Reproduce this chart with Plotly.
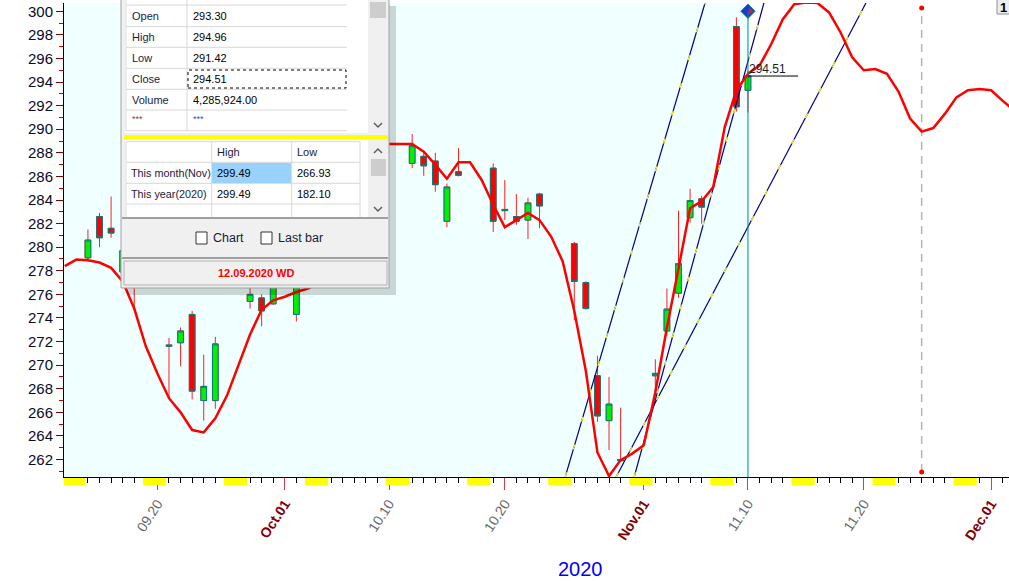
import plotly.graph_objects as go
import pandas as pd

# ---------------- data ----------------
candle_dates = ["2020-09-14", "2020-09-15", "2020-09-16", "2020-09-17", "2020-09-18",
                "2020-09-21", "2020-09-22", "2020-09-23", "2020-09-24", "2020-09-25",
                "2020-09-28", "2020-09-29", "2020-09-30", "2020-10-02",
                "2020-10-12", "2020-10-13", "2020-10-14", "2020-10-15", "2020-10-16",
                "2020-10-19", "2020-10-20", "2020-10-21", "2020-10-22", "2020-10-23",
                "2020-10-26", "2020-10-27", "2020-10-28", "2020-10-29", "2020-10-30",
                "2020-11-02", "2020-11-03", "2020-11-04", "2020-11-05", "2020-11-06",
                "2020-11-09", "2020-11-10"]
opens = [279.1, 282.6, 281.6, 277.9, 279.5,
         271.6, 271.9, 274.3, 267.0, 267.0,
         275.4, 275.7, 275.2, 274.3,
         287.1, 287.7, 287.3, 282.2, 286.4,
         286.7, 283.1, 282.6, 282.3, 284.5,
         280.3, 277.0, 269.1, 265.3, 262.0,
         269.1, 272.9, 276.1, 282.5, 284.1,
         298.7, 293.30]
highs = [281.5, 282.9, 284.3, 280.2, 280.0,
         272.3, 273.2, 274.6, 270.9, 272.4,
         276.8, 276.0, 278.0, 278.5,
         289.6, 288.1, 288.0, 285.4, 288.4,
         287.1, 285.7, 284.5, 284.2, 284.6,
         280.45, 277.1, 270.8, 269.0, 266.4,
         270.5, 276.5, 283.1, 284.95, 284.35,
         299.49, 294.96]
lows = [278.8, 280.0, 280.8, 277.5, 274.9,
        267.2, 269.9, 267.1, 265.3, 266.3,
        274.8, 273.3, 275.1, 273.7,
        286.7, 286.05, 284.7, 281.7, 286.0,
        281.3, 282.3, 281.9, 280.7, 281.6,
        273.8, 274.7, 265.2, 262.8, 261.85,
        267.4, 272.5, 275.7, 282.1, 282.0,
        291.5, 291.42]
closes = [280.6, 280.8, 281.2, 279.7, 277.0,
          271.7, 272.9, 267.8, 268.2, 271.8,
          276.0, 274.6, 277.4, 277.8,
          288.6, 286.9, 285.3, 285.1, 286.1,
          282.2, 283.2, 282.2, 283.75, 283.5,
          277.1, 274.8, 265.7, 266.7, 261.9,
          269.3, 274.75, 278.6, 283.95, 283.4,
          291.9, 294.51]

# smoothed / projected curve, one value per calendar day starting 2020-09-12
curve_start = "2020-09-12"
curve_values = [278.4, 278.95, 278.9, 278.7, 278.25, 277.1, 274.8, 271.6, 269.3, 267.2,
                266.0, 264.5, 264.3, 265.5, 267.4, 270.0, 272.6, 274.7, 275.5, 275.8,
                276.2, 276.5, 277.0, 279.5, 282.0, 284.5, 286.5, 288.0, 288.75, 288.75,
                288.75, 288.1, 287.0, 285.8, 287.2, 287.2, 285.7, 283.6, 281.7, 282.3,
                282.9, 282.3, 280.9, 278.8, 274.6, 269.5, 262.6, 260.6, 261.95, 262.5,
                263.2, 267.7, 273.2, 278.2, 283.3, 283.9, 285.1, 290.2, 293.3, 294.7,
                295.4, 297.2, 299.3, 300.6, 300.75, 300.7, 299.9, 298.2, 296.1, 295.0,
                295.1, 294.7, 293.2, 290.9, 289.8, 290.1, 291.3, 292.7, 293.3, 293.4,
                293.3, 292.4, 291.6]

# trend lines (two points each)
trend_a_x = ["2020-10-25 05:00", "2020-11-06 07:00"]
trend_a_y = [260.5, 300.7]
trend_b_x = ["2020-10-31 04:00", "2020-11-11 09:00"]
trend_b_y = [260.5, 300.7]
trend_c_x = ["2020-10-29 14:30", "2020-11-20 04:30"]
trend_c_y = [260.5, 300.7]

marker_date = "2020-11-25"
marker_top, marker_bottom = 300.28, 260.94

tick_dates = ["2020-09-20", "2020-10-01", "2020-10-10", "2020-10-20",
              "2020-11-01", "2020-11-10", "2020-11-20", "2020-12-01"]
tick_labels = ["09.20", "Oct.01", "10.10", "10.20", "Nov.01", "11.10", "11.20", "Dec.01"]
month_labels = ["Oct.01", "Nov.01", "Dec.01"]

info_rows = ["Open", "High", "Low", "Close", "Volume", "***"]
info_vals = ["293.30", "294.96", "291.42", "294.51", "4,285,924.00", "***"]
range_cols = ["High", "Low"]
range_rows = ["This month(Nov)", "This year(2020)"]
range_high = ["299.49", "299.49"]
range_low = ["266.93", "182.10"]
status_text = "12.09.2020 WD"
year_label = "2020"

# ---------------- geometry helpers (pixel -> paper) ----------------
W, H = 1009, 581
ML, MR, MT, MB = 64, 0, 3, 104
PW, PH = W - ML - MR, H - MT - MB
x_range = ["2020-09-11 22:24", "2020-12-02 13:00"]
y_range = [260.52, 300.70]


def px(x):
    return (x - ML) / PW


def py(y):
    return (H - MB - y) / PH


FONT = "Liberation Sans, Arial, sans-serif"

fig = go.Figure()

# wicks (red) + full candles
fig.add_trace(go.Candlestick(
    x=candle_dates, open=opens, high=highs, low=lows, close=closes,
    increasing=dict(line=dict(color="#ff2020", width=1), fillcolor="#ff2020"),
    decreasing=dict(line=dict(color="#ff2020", width=1), fillcolor="#ff2020"),
    whiskerwidth=0, hoverinfo="skip", showlegend=False))
# bodies with teal outline
body_hi = [max(o, c) for o, c in zip(opens, closes)]
body_lo = [min(o, c) for o, c in zip(opens, closes)]
fig.add_trace(go.Candlestick(
    x=candle_dates, open=opens, high=body_hi, low=body_lo, close=closes,
    increasing=dict(line=dict(color="#008080", width=1), fillcolor="#00f000"),
    decreasing=dict(line=dict(color="#008080", width=1), fillcolor="#ff0000"),
    whiskerwidth=0, hoverinfo="skip", showlegend=False))

# trend lines: navy with yellow dashes
for tx, ty in [(trend_a_x, trend_a_y), (trend_b_x, trend_b_y), (trend_c_x, trend_c_y)]:
    fig.add_trace(go.Scatter(x=tx, y=ty, mode="lines", line=dict(color="#000080", width=1.2),
                             hoverinfo="skip", showlegend=False))
    fig.add_trace(go.Scatter(x=tx, y=ty, mode="lines",
                             line=dict(color="#ffff00", width=1.2, dash="5px,24px"),
                             hoverinfo="skip", showlegend=False))

# curve
curve_dates = pd.date_range(curve_start, periods=len(curve_values), freq="D")
fig.add_trace(go.Scatter(x=curve_dates, y=curve_values, mode="lines",
                         line=dict(color="#ff0000", width=2.5),
                         hoverinfo="skip", showlegend=False))

last_date = pd.Timestamp(candle_dates[-1])
last_close = closes[-1]

# marker dots on dashed line
fig.add_trace(go.Scatter(x=[marker_date, marker_date], y=[marker_top, marker_bottom],
                         mode="markers", marker=dict(color="#ff0000", size=5),
                         hoverinfo="skip", showlegend=False))
# diamond on cursor (blue / red halves)
fig.add_trace(go.Scatter(x=[last_date], y=[300.0], mode="markers",
                         marker=dict(symbol="diamond", size=11, color="#1a3cc8",
                                     line=dict(color="#008b8b", width=1)),
                         hoverinfo="skip", showlegend=False))
fig.add_trace(go.Scatter(x=[last_date + pd.Timedelta(hours=5)], y=[300.0], mode="markers",
                         marker=dict(symbol="triangle-right", size=6, color="#e02020"),
                         hoverinfo="skip", showlegend=False))

shapes = []
# shaded history background
shapes.append(dict(type="rect", xref="x", yref="paper", x0=x_range[0], x1=last_date,
                   y0=0, y1=1, fillcolor="#f0ffff", line=dict(width=0), layer="below"))
# cursor line
shapes.append(dict(type="line", xref="x", yref="y", x0=last_date, x1=last_date,
                   y0=y_range[0], y1=300.0, line=dict(color="#008b8b", width=1)))
# price line
shapes.append(dict(type="line", xref="x", yref="y", x0=last_date,
                   x1=last_date + pd.Timedelta(hours=104), y0=last_close, y1=last_close,
                   line=dict(color="#000000", width=1)))
# dashed vertical
shapes.append(dict(type="line", xref="x", yref="y", x0=marker_date, x1=marker_date,
                   y0=marker_bottom, y1=marker_top,
                   line=dict(color="#b4b4b4", width=1.5, dash="8px,6px"), layer="below"))

# weekend markers below the axis
for d in pd.date_range("2020-09-05", "2020-12-06", freq="W-SAT"):
    shapes.append(dict(type="rect", xref="x", yref="paper",
                       x0=d - pd.Timedelta(hours=6), x1=d + pd.Timedelta(hours=42),
                       y0=py(485), y1=py(478), fillcolor="#ffff00", line=dict(width=0)))


def R(x0, y0, x1, y1, fill=None, line_color=None, lw=1, dash=None):
    ln = dict(width=0) if line_color is None else dict(color=line_color, width=lw)
    if dash and line_color:
        ln["dash"] = dash
    d = dict(type="rect", xref="paper", yref="paper", x0=px(x0), x1=px(x1),
             y0=py(y1), y1=py(y0), line=ln, layer="above")
    if fill:
        d["fillcolor"] = fill
    shapes.append(d)


def L(x0, y0, x1, y1, color="#d8d8d8", lw=1):
    shapes.append(dict(type="line", xref="paper", yref="paper", x0=px(x0), x1=px(x1),
                       y0=py(y0), y1=py(y1), line=dict(color=color, width=lw), layer="above"))


def chevron(cx, cy, up=False):
    s = -1 if up else 1
    path = (f"M {px(cx-4)},{py(cy - 2*s)} L {px(cx)},{py(cy + 2*s)} "
            f"L {px(cx+4)},{py(cy - 2*s)}")
    shapes.append(dict(type="path", xref="paper", yref="paper", path=path,
                       line=dict(color="#606060", width=1.5), layer="above"))


# info panel: shadow + frame
R(127, 6, 396, 295, fill="rgba(0,0,0,0.16)")
R(121, -3, 389, 288, fill="#f0f0f0", line_color="#a0a0a0")
# upper table
R(125, -2, 368, 133, fill="#ffffff")
for yy in [5, 26.7, 47.3, 68.3, 89.3, 110, 130.7]:
    L(126, yy, 347, yy)
L(187, -2, 187, 131)
L(126, -2, 126, 131)
R(368, -2, 388, 133, fill="#f0f0f0")
R(370, 2, 386, 18, fill="#cdcdcd")
chevron(378, 125)
R(188, 70, 346, 88, line_color="#000000", lw=1, dash="dot")
# yellow separator
R(124, 135, 388, 139.5, fill="#ffff00")
# lower table
R(125, 140, 368, 217, fill="#ffffff")
for yy in [141.7, 162.3, 183.3, 204]:
    L(126, yy, 360, yy)
for xx in [126, 211.7, 291.7, 360]:
    L(xx, 141.7, xx, 217)
R(212, 163, 291, 183, fill="#99d1ff")
R(369, 140, 388, 217, fill="#f0f0f0")
R(371, 159, 386, 176, fill="#cdcdcd")
chevron(378, 151, up=True)
chevron(378, 209)
L(122, 218, 388, 218, color="#a0a0a0", lw=2)
# checkbox area
R(196, 232, 207, 244, fill="#ffffff", line_color="#333333")
R(261, 232, 272, 244, fill="#ffffff", line_color="#333333")
L(122, 258, 388, 258, color="#a0a0a0", lw=2)
# status box
R(124, 261, 387, 285, fill="#f0f0f0", line_color="#b0b0b0")
# top-right small box
R(997, -2, 1012, 14, fill="#ececec", line_color="#909090")

annotations = []


def T(x, y, text, color="#1a1a3a", size=11, xanchor="left", bold=False):
    if bold:
        text = f"<b>{text}</b>"
    annotations.append(dict(xref="paper", yref="paper", x=px(x), y=py(y), text=text,
                            showarrow=False, xanchor=xanchor, yanchor="middle",
                            font=dict(family=FONT, size=size, color=color)))


row_y = [16, 37, 58, 79, 100, 119]
for i, (lab, val) in enumerate(zip(info_rows, info_vals)):
    if lab == "***":
        T(130, row_y[i], lab, color="#8b3a3a", size=9)
        T(191, row_y[i], val, color="#1e50c8", size=9)
    else:
        T(130, row_y[i], lab)
        T(191, row_y[i], val, color="#000000")
T(215, 152, range_cols[0])
T(295, 152, range_cols[1])
for i, (lab, hi, lo) in enumerate(zip(range_rows, range_high, range_low)):
    yy = [173, 194][i]
    T(129, yy, lab, size=10.8)
    T(215, yy, hi, color="#000000")
    T(295, yy, lo, color="#000000")
T(211, 238, "Chart", size=12.5)
T(276, 238, "Last bar", size=12.5)
T(256, 273, status_text, color="#ff0000", size=11, xanchor="center", bold=True)
T(1003, 7, "1", color="#000000", size=13, xanchor="center", bold=True)

# price label
annotations.append(dict(xref="x", yref="y", x=last_date + pd.Timedelta(hours=-1),
                        y=last_close, text=f"{last_close:.2f}", showarrow=False,
                        xanchor="left", yanchor="bottom", yshift=-2,
                        font=dict(family=FONT, size=12, color="#202020")))
# year label
annotations.append(dict(xref="paper", yref="paper", x=px(580), y=py(569), text=year_label,
                        showarrow=False, xanchor="center", yanchor="middle",
                        font=dict(family=FONT, size=20, color="#0000ff")))

ticktext = [f"<b><span style='color:#800000'>{t}</span></b>" if t in month_labels else t
            for t in tick_labels]

fig.update_layout(
    width=W, height=H, autosize=False,
    margin=dict(l=ML, r=MR, t=MT, b=MB, pad=0),
    paper_bgcolor="#ffffff", plot_bgcolor="#ffffff",
    showlegend=False, hovermode=False,
    shapes=shapes, annotations=annotations,
    font=dict(family=FONT),
    xaxis=dict(type="date", range=x_range, rangeslider=dict(visible=False),
               tickmode="array", tickvals=tick_dates, ticktext=ticktext,
               tickangle=-57, tickfont=dict(family=FONT, size=14, color="#6a6a6a"),
               ticks="outside", ticklen=12, tickcolor="#d04040", tickwidth=1,
               showline=True, linecolor="#000000", linewidth=1,
               showgrid=False, zeroline=False, fixedrange=True,
               minor=dict(tickmode="linear", tick0="2020-09-01", dtick=86400000,
                          ticks="outside", ticklen=5, tickcolor="#000000", showgrid=False)),
    yaxis=dict(range=y_range, tickmode="linear", tick0=262, dtick=2,
               tickfont=dict(family=FONT, size=15, color="#0a0a28"),
               ticks="outside", ticklen=7, tickcolor="#800000", tickwidth=1,
               showline=True, linecolor="#000000", linewidth=1,
               showgrid=False, zeroline=False, fixedrange=True,
               minor=dict(dtick=1, ticks="outside", ticklen=4, tickcolor="#c00000",
                          showgrid=False)),
)

fig.write_html("out.html", config={"displayModeBar": False},
               post_script="document.body.style.margin='0';document.body.style.overflow='hidden';")
